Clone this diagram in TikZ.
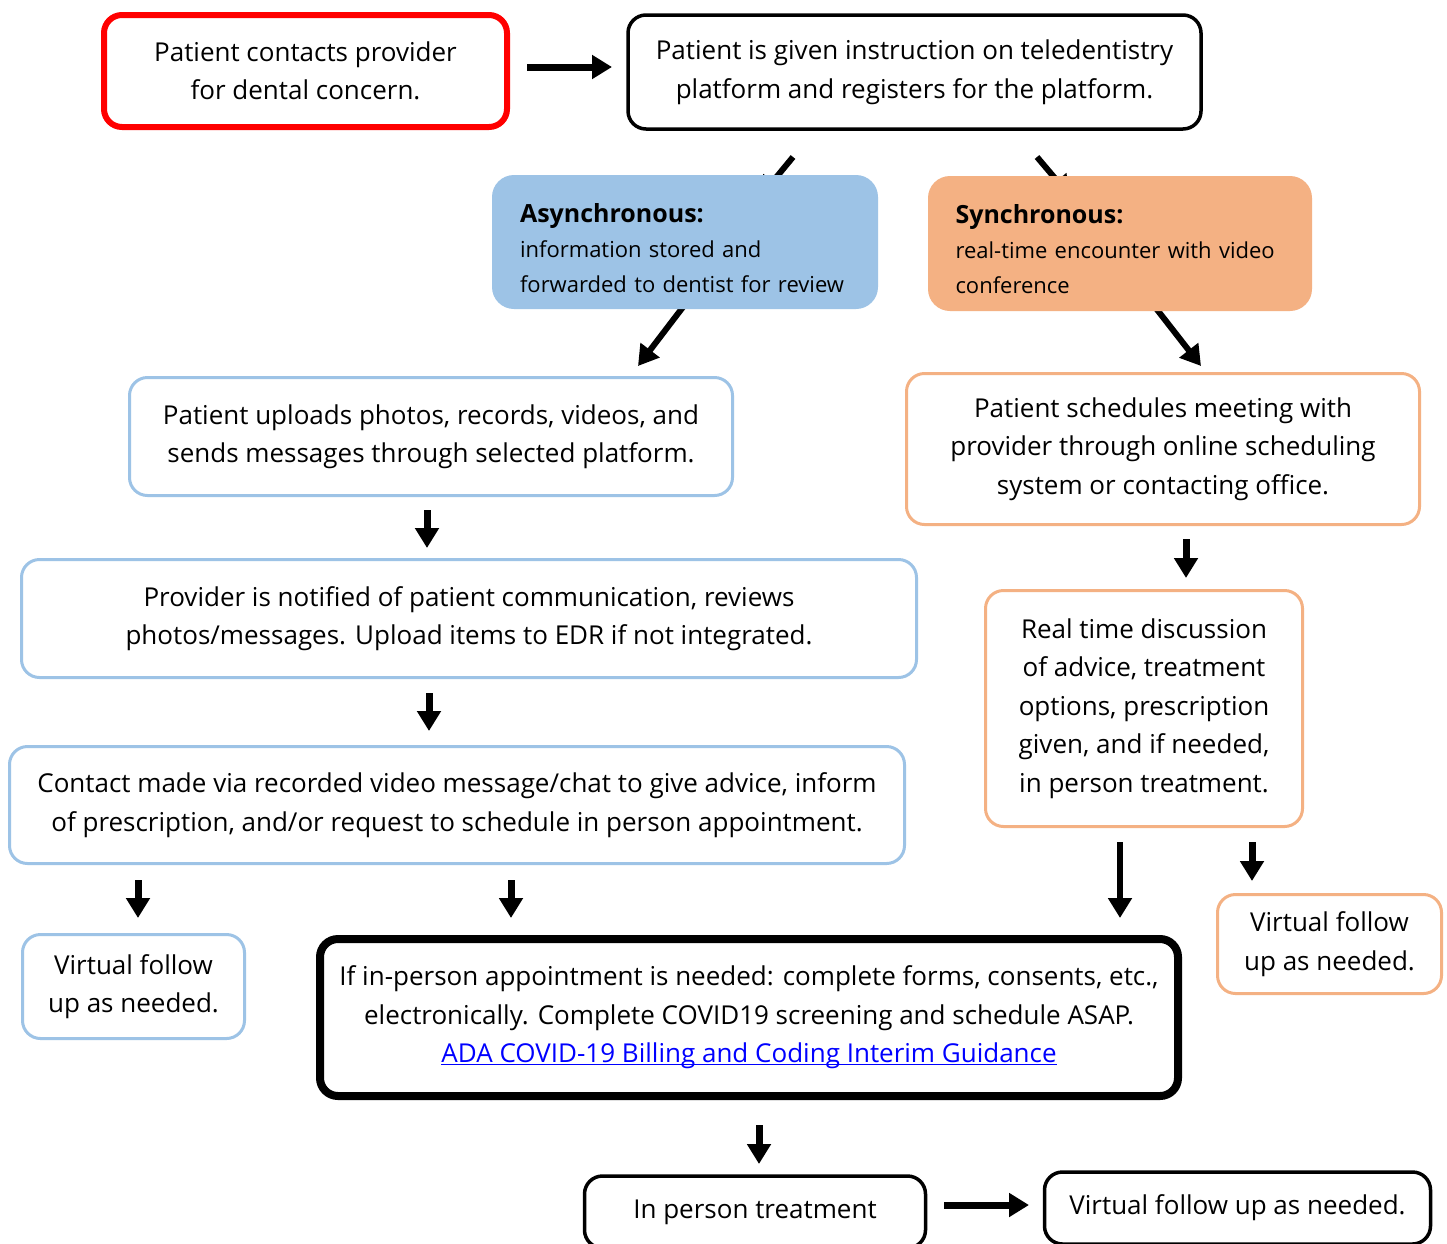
\documentclass[tikz,border=0pt]{standalone}
\usepackage{fontspec}
\setmainfont{Open Sans}
\usetikzlibrary{arrows.meta}
\definecolor{ablue}{HTML}{9DC3E6}
\definecolor{aorange}{HTML}{F4B183}
\definecolor{linkblue}{HTML}{0000FF}
\newcommand\myul[1]{\setbox0\hbox{#1}\rlap{\rule[-2.5pt]{\wd0}{1.6pt}}\box0}
\newcommand\cathead[1]{{\fontsize{25}{37}\selectfont\textbf{#1}}}
\begin{document}
\begin{tikzpicture}[x=1pt,y=-1pt,
 box/.style={draw, rounded corners=18pt, align=center, inner sep=0pt, fill=white, line width=3.5pt, font=\fontsize{26}{38.5}\selectfont},
 bluebox/.style={box, draw=ablue, line width=3pt},
 orbox/.style={box, draw=aorange, line width=3pt},
 catbox/.style={rounded corners=22pt, inner sep=0pt},
 cattext/.style={align=left, inner sep=0pt, text width=#1, font=\fontsize{22}{35}\selectfont},
 arr/.style={line width=7pt, -{Triangle[width=23pt,length=20pt]}},
 ]
\useasboundingbox (0,0) rectangle (1447,1243);
\clip (0,0) rectangle (1447,1243);
\fill[white] (0,0) rectangle (1447,1243);

% arrow coordinates
\coordinate (t1) at (527,67);   \coordinate (t2) at (612,67);
\coordinate (d1) at (793,157);  \coordinate (d2) at (760,197);
\coordinate (e1) at (1037,157); \coordinate (e2) at (1070,196);
\coordinate (f1) at (683,307);  \coordinate (f2) at (638,366);
\coordinate (g1) at (1155,307); \coordinate (g2) at (1201,366);
\coordinate (h1) at (427,510);  \coordinate (h2) at (427,548);
\coordinate (i1) at (1186,539); \coordinate (i2) at (1186,578);
\coordinate (j1) at (429,693);  \coordinate (j2) at (429,731);
\coordinate (k1) at (138,880);  \coordinate (k2) at (138,918);
\coordinate (l1) at (511,880);  \coordinate (l2) at (511,918);
\coordinate (m1) at (1120,842); \coordinate (m2) at (1120,918);
\coordinate (n1) at (1252,842); \coordinate (n2) at (1252,881);
\coordinate (o1) at (759,1125); \coordinate (o2) at (759,1164);
\coordinate (p1) at (944,1205); \coordinate (p2) at (1029,1205);

\draw[arr] (t1) -- (t2);
\draw[arr,line width=6pt] (d1) -- (d2);
\draw[arr,line width=6pt] (e1) -- (e2);
\draw[arr,line width=6pt] (f1) -- (f2);
\draw[arr,line width=6pt] (g1) -- (g2);
\draw[arr] (h1) -- (h2);
\draw[arr] (i1) -- (i2);
\draw[arr] (j1) -- (j2);
\draw[arr] (k1) -- (k2);
\draw[arr] (l1) -- (l2);
\draw[arr,line width=6pt] (m1) -- (m2);
\draw[arr] (n1) -- (n2);
\draw[arr] (o1) -- (o2);
\draw[arr] (p1) -- (p2);

\node[box, draw=red, line width=6pt, minimum width=403pt, minimum height=112pt] (contact) at (305.5,71)
 {Patient contacts provider\\for dental concern.};
\node[box, minimum width=573pt, minimum height=114pt] (instr) at (914.5,72)
 {Patient is given instruction on teledentistry\\platform and registers for the platform.};

\node[catbox, fill=ablue, minimum width=386pt, minimum height=134pt] (async) at (685,242) {};
\node[cattext=330pt] (asynct) at (685,248)
 {\cathead{Asynchronous:}\\information stored and\\forwarded to dentist for review};
\node[catbox, fill=aorange, minimum width=384pt, minimum height=135pt] (sync) at (1120,243.5) {};
\node[cattext=329pt] (synct) at (1120,249)
 {\cathead{Synchronous:}\\real-time encounter with video\\conference};

\node[bluebox, minimum width=603pt, minimum height=118pt] (upload) at (431,436.5)
 {Patient uploads photos, records, videos, and\\sends messages through selected platform.};
\node[orbox, minimum width=513pt, minimum height=151pt] (sched) at (1163,449)
 {Patient schedules meeting with\\provider through online scheduling\\system or contacting office.};
\node[bluebox, minimum width=895pt, minimum height=118pt] (notify) at (469,618.5)
 {Provider is notified of patient communication, reviews\\photos/messages. Upload items to EDR if not integrated.};
\node[orbox, minimum width=317pt, minimum height=236pt] (realtime) at (1144,708.5)
 {Real time discussion\\of advice, treatment\\options, prescription\\given, and if needed,\\in person treatment.};
\node[bluebox, minimum width=895pt, minimum height=117pt] (video) at (457,805)
 {Contact made via recorded video message/chat to give advice, inform\\of prescription, and/or request to schedule in person appointment.};
\node[bluebox, minimum width=222pt, minimum height=104pt] (vfl) at (133.5,986.5)
 {Virtual follow\\up as needed.};
\node[box, line width=8pt, minimum width=858pt, minimum height=157pt] (inperson) at (749,1017.5)
 {If in-person appointment is needed: complete forms, consents, etc.,\\electronically. Complete COVID19 screening and schedule ASAP.\\{\color{linkblue}\myul{ADA COVID-19 Billing and Coding Interim Guidance}}};
\node[orbox, minimum width=224pt, minimum height=99pt] (vfr) at (1329.5,944)
 {Virtual follow\\up as needed.};
\node[box, minimum width=341pt, minimum height=72pt] (treat) at (755,1212)
 {In person treatment};
\node[box, minimum width=386pt, minimum height=72pt] (vfb) at (1237.5,1208)
 {Virtual follow up as needed.};
\end{tikzpicture}
\end{document}
